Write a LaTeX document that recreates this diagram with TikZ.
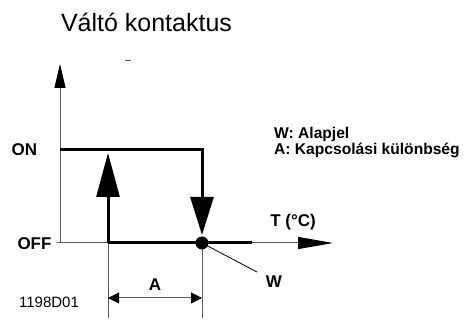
\documentclass[tikz,border=0pt]{standalone}
\usepackage{fontspec}
\setmainfont{Liberation Sans}
\usetikzlibrary{arrows.meta}

\begin{document}
\begin{tikzpicture}[x=1pt,y=1pt,
        axis/.style={draw=black!65,line width=1pt},
        curve/.style={draw=black,line width=3pt},
        lbl/.style={font=\fontsize{17}{17}\selectfont\bfseries,inner sep=0pt},
        legend/.style={font=\fontsize{15.6}{15.6}\selectfont\bfseries,inner sep=0pt,anchor=base west},
        plain/.style={font=\fontsize{15}{15}\selectfont,inner sep=0pt}
      ]
      \useasboundingbox (0,0) rectangle (466,320);
      \coordinate (orig) at (60,77);
      \coordinate (ytop) at (60,256);
      \coordinate (xbeg) at (57,77);
      \coordinate (xtip) at (333,77);
      \coordinate (onpt) at (108,77);
      \coordinate (wpt) at (202,77);
      \coordinate (onlvl) at (60,170);
      \coordinate (uptip) at (108,167);
      \coordinate (downtip) at (202,85);
      \coordinate (offend) at (252,77);
      \coordinate (lead) at (257,48);
      \coordinate (dimL) at (108,22);
      \coordinate (dimR) at (202,22);
      \coordinate (extL) at (108,2);
      \coordinate (extR) at (202,2);
      \coordinate (dashL) at (125,260);
      \coordinate (dashR) at (131,260);

      \draw[axis,-{Triangle[length=24pt,width=11pt,color=black]}] (orig) -- (ytop);
      \draw[axis,-{Triangle[length=35pt,width=12pt,color=black]}] (xbeg) -- (xtip);
      \draw[axis] (onpt) -- (extL);
      \draw[axis] (wpt) -- (extR);
      \draw[axis,{Triangle[length=11pt,width=11pt,color=black]}-{Triangle[length=11pt,width=11pt,color=black]}] (dimL) -- (dimR);
      \draw[axis,line width=0.8pt] (dashL) -- (dashR);

      \draw[curve] (onpt) -- (offend);
      \draw[curve,-{Triangle[length=44pt,width=23pt]}] (onpt) -- (uptip);
      \draw[curve,-{Triangle[length=38pt,width=23pt]}] (onlvl) -- (wpt |- onlvl) -- (downtip);
      \fill (wpt) circle (6.5pt);
      \draw[black,line width=0.8pt] (wpt) -- (lead);

      \node[font=\fontsize{25}{25}\selectfont,inner sep=0pt,anchor=base] (title) at (146.5,288) {Váltó kontaktus};
      \node[lbl] (on) at (24.5,170) {ON};
      \node[lbl] (off) at (34.5,76) {OFF};
      \node[lbl] (temp) at (293,98) {T (°C)};
      \node[lbl] (wlbl) at (274,38) {W};
      \node[lbl] (albl) at (155,35) {A};
      \node[plain] (code) at (49,18) {1198D01};
      \node[legend] (leg1) at (274,181) {W: Alapjel};
      \node[legend] (leg2) at (274,165) {A: Kapcsolási különbség};
    \end{tikzpicture}
\end{document}
